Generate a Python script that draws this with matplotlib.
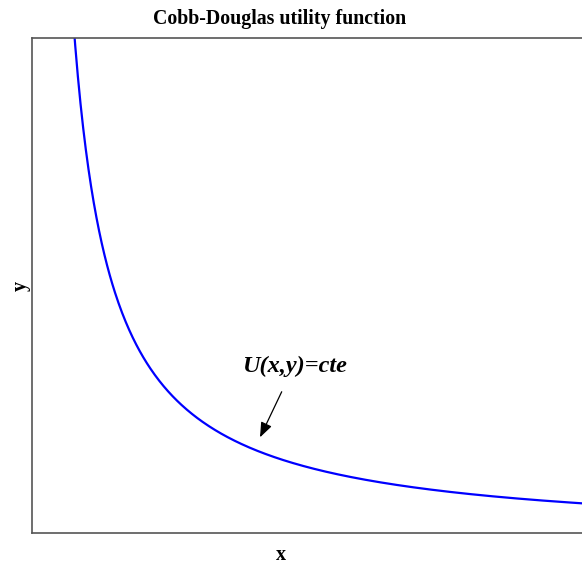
import numpy as np
import matplotlib
matplotlib.use("Agg")
import matplotlib.pyplot as plt

# indifference curve x*y = const
utility_level = 10.0
x_from, x_to = 0.5, 10.2
x_range = (-0.064, 10.146)
y_range = (0.173, 13.97)

title_text = "Cobb-Douglas utility function"
label_text = "U(x,y)=cte"
label_xy = (4.73, 4.83)
arrow_tail = (4.505, 4.11)
arrow_tip = (4.108, 2.84)

x = np.linspace(x_from, x_to, 600)
y = utility_level / x

fig = plt.figure(figsize=(5.82, 5.64), dpi=100)
ax = fig.add_axes([32/582, 31/564, 558/582, 495/564])

ax.plot(x, y, color="#0000ff", lw=1.6)
ax.set_xlim(*x_range)
ax.set_ylim(*y_range)
ax.set_xticks([])
ax.set_yticks([])
for s in ax.spines.values():
    s.set_color("#555555")
    s.set_linewidth(1.2)

serif = ["Liberation Serif", "DejaVu Serif"]
fig.text(280/582, 1 - 19/564, title_text, ha="center", va="center",
         fontsize=14.3, fontweight="bold", family=serif)
fig.text(281/582, 1 - 555/564, "x", ha="center", va="center",
         fontsize=14.5, fontweight="bold", family=serif)
fig.text(21/582, 1 - 286/564, "y", ha="center", va="center", rotation=90,
         fontsize=14.5, fontweight="bold", family=serif)

ax.text(label_xy[0], label_xy[1], label_text, ha="center", va="center",
        fontsize=17.5, fontweight="bold", fontstyle="italic", family=serif)
ax.annotate("", xy=arrow_tip, xytext=arrow_tail,
            arrowprops=dict(arrowstyle="-|>,head_length=0.9,head_width=0.35",
                            color="black", lw=0.9, shrinkA=0, shrinkB=0))

fig.savefig("out.png", dpi=100)
